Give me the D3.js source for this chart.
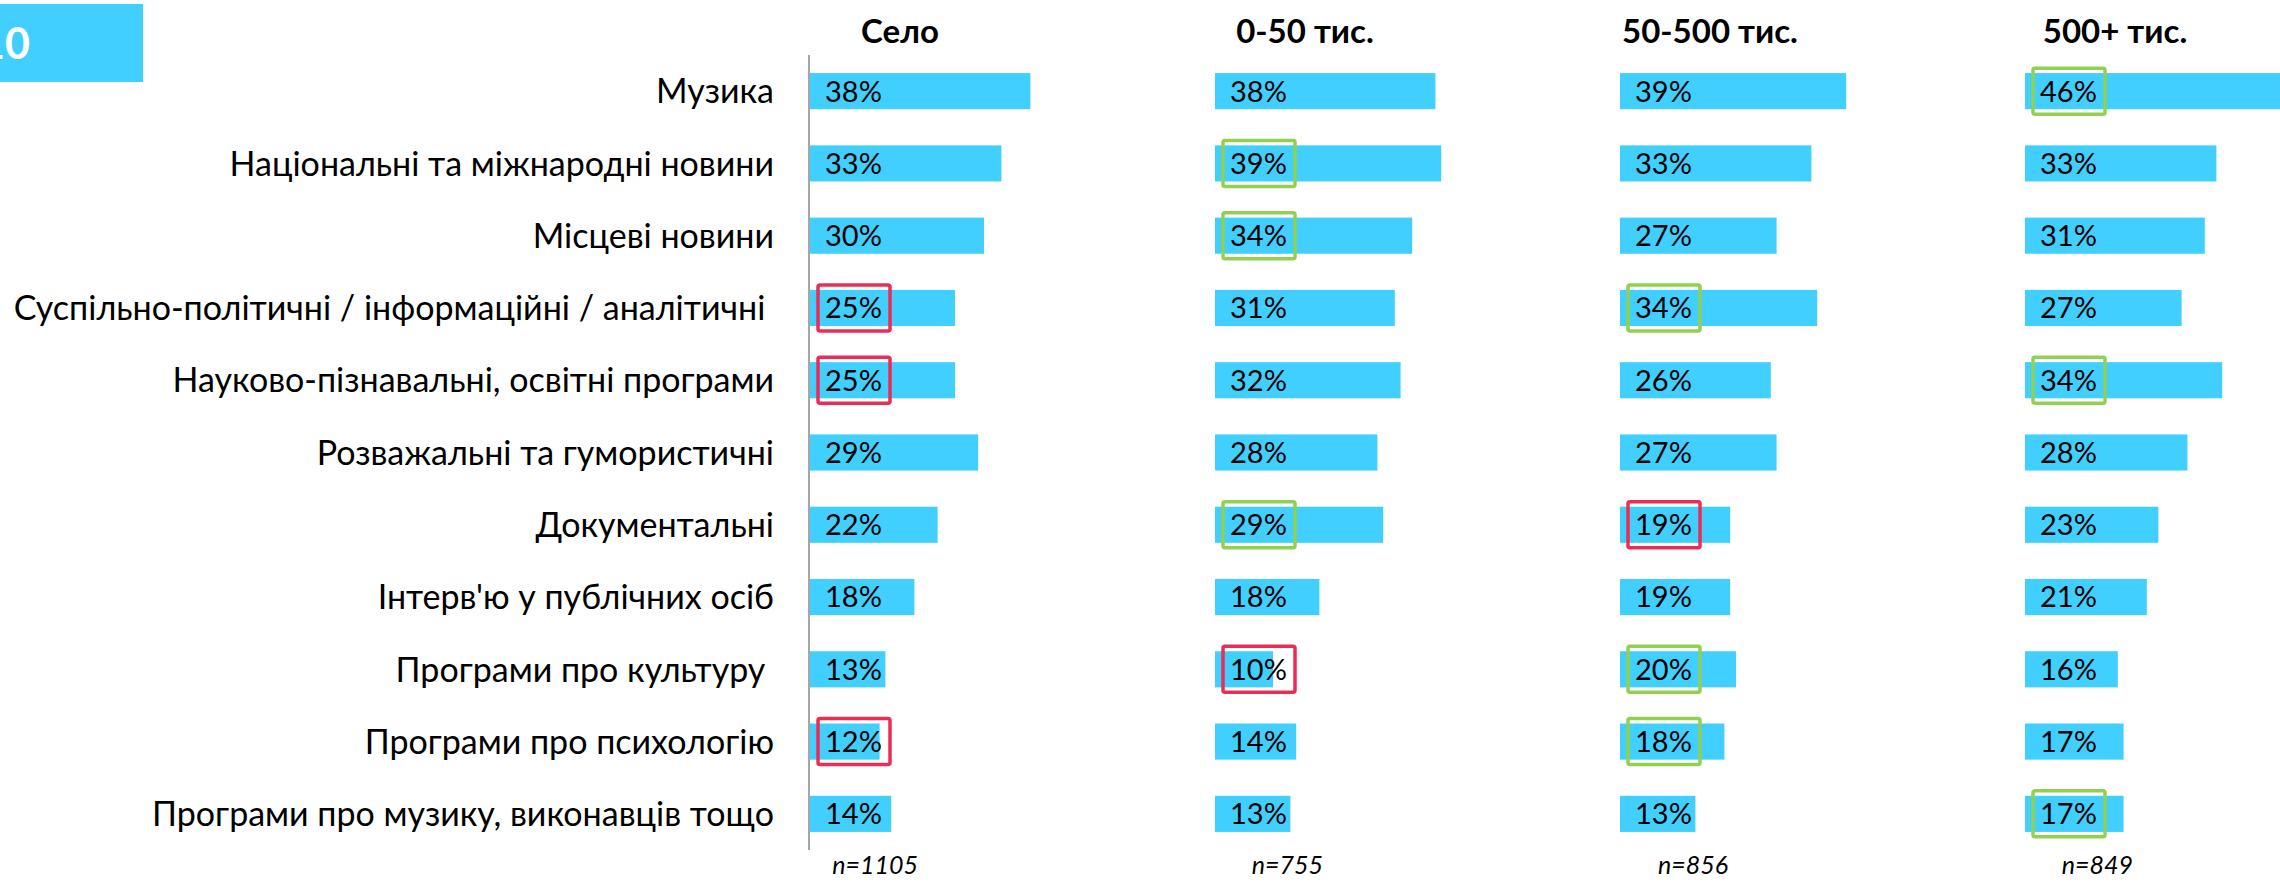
<!DOCTYPE html>
<html lang="uk">
<head>
    <meta charset="UTF-8">
    <title>Тематика програм</title>
    <style>
        body {
            margin: 0;
            padding: 0;
            background: #fff;
        }
        svg text {
            font-family: Lato, "Open Sans", sans-serif;
        }
        .cat {
            font-size: 34px;
            fill: #000;
            white-space: pre;
        }
        .val {
            font-size: 29px;
            fill: #000;
        }
        .head {
            font-size: 33px;
            font-weight: bold;
        }
        .nlab {
            font-size: 25px;
            font-style: italic;
        }
    </style>
</head>
<body>
    <div id="chart"></div>

    <script src="https://cdn.jsdelivr.net/npm/d3@7"></script>
    <script>
        const width = 2280;
        const height = 882;

        // дані
        const categories = [
            "Музика",
            "Національні та міжнародні новини",
            "Місцеві новини",
            "Суспільно-політичні / інформаційні / аналітичні ",
            "Науково-пізнавальні, освітні програми",
            "Розважальні та гумористичні",
            "Документальні",
            "Інтерв'ю у публічних осіб",
            "Програми про культуру ",
            "Програми про психологію",
            "Програми про музику, виконавців тощо"
        ];
        const groups = ["Село", "0-50 тис.", "50-500 тис.", "500+ тис."];
        const sampleSizes = ["n=1105", "n=755", "n=856", "n=849"];

        const selo      = [38, 33, 30, 25, 25, 29, 22, 18, 13, 12, 14];
        const town0_50  = [38, 39, 34, 31, 32, 28, 29, 18, 10, 14, 13];
        const city50_500 = [39, 33, 27, 34, 26, 27, 19, 19, 20, 18, 13];
        const city500   = [46, 33, 31, 27, 34, 28, 23, 21, 16, 17, 17];
        const series = [selo, town0_50, city50_500, city500];

        // g = вище, r = нижче
        const markSelo   = ["", "", "", "r", "r", "", "", "", "", "r", ""];
        const mark0_50   = ["", "g", "g", "", "", "", "g", "", "r", "", ""];
        const mark50_500 = ["", "", "", "g", "", "", "r", "", "g", "g", ""];
        const mark500    = ["g", "", "", "", "g", "", "", "", "", "", "g"];
        const marks = [markSelo, mark0_50, mark50_500, mark500];

        const barColor = "#41CFFF";
        const markColor = { g: "#92D050", r: "#EC2C55" };

        const svg = d3.select("#chart")
            .append("svg")
            .attr("width", width)
            .attr("height", height);

        // номер слайду
        svg.append("rect")
            .attr("x", 0).attr("y", 4)
            .attr("width", 143).attr("height", 78)
            .attr("fill", barColor);
        svg.append("text")
            .attr("x", 30).attr("y", 59)
            .attr("text-anchor", "end")
            .attr("fill", "#fff")
            .style("font-size", "43px")
            .style("font-weight", "bold")
            .text("10");

        const y = d3.scaleBand()
            .domain(categories)
            .range([55, 850])
            .paddingInner(0.5)
            .paddingOuter(0.25);

        const panelX = d3.scaleBand()
            .domain(groups)
            .range([810, 810 + 405 * 4]);

        const x = d3.scaleLinear().domain([0, 70]).range([0, 406]);

        // підписи категорій
        svg.selectAll(".cat")
            .data(categories)
            .enter().append("text")
            .attr("class", "cat")
            .attr("x", 774)
            .attr("y", d => y(d) + y.bandwidth() / 2)
            .attr("dy", "0.36em")
            .attr("text-anchor", "end")
            .text(d => d);

        // вісь
        svg.append("line")
            .attr("x1", 809).attr("x2", 809)
            .attr("y1", 55).attr("y2", 850)
            .attr("stroke", "#A6A6A6")
            .attr("stroke-width", 2);

        groups.forEach((g, gi) => {
            const x0 = panelX(g);
            const rows = categories.map((c, i) => ({ cat: c, value: series[gi][i], mark: marks[gi][i] }));
            const panel = svg.append("g").attr("transform", `translate(${x0},0)`);

            panel.append("text")
                .attr("class", "head")
                .attr("x", 90)
                .attr("y", 43)
                .attr("text-anchor", "middle")
                .text(g);

            panel.selectAll(".bar")
                .data(rows)
                .enter().append("rect")
                .attr("class", "bar")
                .attr("x", x(0))
                .attr("y", d => y(d.cat))
                .attr("width", d => x(d.value))
                .attr("height", y.bandwidth())
                .attr("fill", barColor);

            panel.selectAll(".val")
                .data(rows)
                .enter().append("text")
                .attr("class", "val")
                .attr("x", 15)
                .attr("y", d => y(d.cat) + y.bandwidth() / 2)
                .attr("dy", "0.36em")
                .text(d => d.value + "%");

            panel.selectAll(".box")
                .data(rows.filter(d => d.mark))
                .enter().append("rect")
                .attr("class", "box")
                .attr("x", 8)
                .attr("y", d => y(d.cat) + y.bandwidth() / 2 - 23)
                .attr("width", 72)
                .attr("height", 46)
                .attr("rx", 2)
                .attr("fill", "none")
                .attr("stroke", d => markColor[d.mark])
                .attr("stroke-width", 3.5);

            panel.append("text")
                .attr("class", "nlab")
                .attr("x", 108)
                .attr("y", 874)
                .attr("text-anchor", "end")
                .text(sampleSizes[gi]);
        });
    </script>
</body>
</html>
